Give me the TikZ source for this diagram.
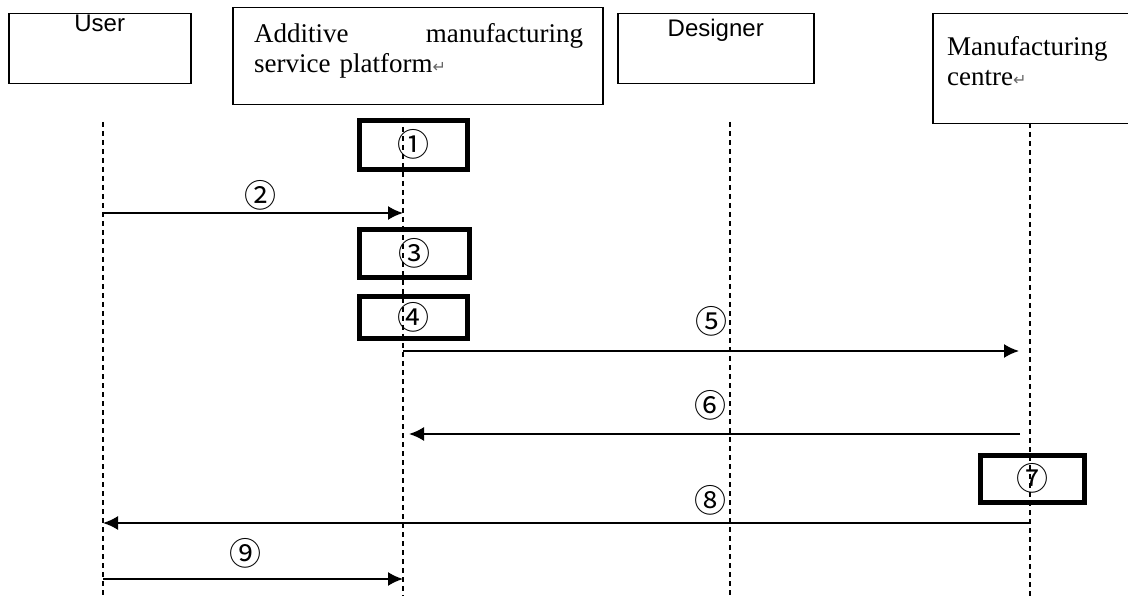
\documentclass[tikz,border=0pt]{standalone}
\usepackage{fontspec}
\usetikzlibrary{positioning, arrows.meta}
\newfontfamily\labelsans{Liberation Sans}
\newfontfamily\labelserif{Liberation Serif}
\newfontfamily\circnum{Noto Sans CJK SC}
\newfontfamily\retfont{DejaVu Sans}
\newcommand{\retmark}{{\retfont\fontsize{16}{16}\selectfont\textcolor{black!60}{↵}}}

\begin{document}
\begin{tikzpicture}[
    x=1pt, y=-1pt,
    >={Latex[length=15pt, width=14pt]},
    % Styles for the participants, their lifelines and the messages
    actor/.style={rectangle, draw=black, line width=1.5pt, anchor=north west, inner sep=0pt},
    activity/.style={rectangle, draw=black, line width=5pt, inner sep=0pt, font=\circnum\fontsize{32}{32}\selectfont},
    lifeline/.style={draw=black, line width=1.6pt, dash pattern=on 5pt off 4pt},
    msg/.style={->, line width=1.8pt, draw=black},
    num/.style={inner sep=0pt, font=\circnum\fontsize{32}{32}\selectfont},
    sanstext/.style={inner sep=0pt, font=\labelsans\fontsize{24}{28}\selectfont},
    seriftext/.style={inner sep=0pt, align=left, font=\labelserif\fontsize{27}{30}\selectfont}
]
  \useasboundingbox (0,0) rectangle (1128,596);

  % --- PARTICIPANTS ---
  \node[actor, minimum width=182pt, minimum height=70pt] (user) at (8,13) {};
  \node[actor, minimum width=370pt, minimum height=97pt] (platform) at (232,7) {};
  \node[actor, minimum width=196pt, minimum height=70pt] (designer) at (617,13) {};
  \node[actor, minimum width=200pt, minimum height=110pt] (centre) at (932,13) {};

  \node[sanstext, below=2pt of user.north] (usertxt) {User};
  \node[sanstext, below=6pt of designer.north] (designertxt) {Designer};
  \node[seriftext, text width=329pt, below right=16.5pt and 22pt of platform.north west] (platformtxt)
    {Additive\hfill manufacturing\\service platform\retmark};
  \node[seriftext, below right=23.5pt and 15pt of centre.north west] (centretxt)
    {Manufacturing\\centre\retmark};

  % --- LIFELINES ---
  \coordinate (user-top) at (103,122);
  \coordinate (user-end) at (103,596);
  \coordinate (platform-top) at (403,118);
  \coordinate (platform-end) at (403,596);
  \coordinate (designer-top) at (730,122);
  \coordinate (designer-end) at (730,596);
  \coordinate (centre-top) at (1030,123);
  \coordinate (centre-end) at (1030,596);

  \draw[lifeline] (user-top) -- (user-end);
  \draw[lifeline] (platform-top) -- (platform-end);
  \draw[lifeline] (designer-top) -- (designer-end);
  \draw[lifeline] (centre-top) -- (centre-end);

  % --- ACTIVATIONS ---
  \node[activity, minimum width=108pt, minimum height=49pt] (act1) at (413.5,145) {\raisebox{5pt}{①}};
  \node[activity, minimum width=110pt, minimum height=48pt] (act3) at (414.5,253.5) {\raisebox{3.5pt}{③}};
  \node[activity, minimum width=108pt, minimum height=42pt] (act4) at (413.5,317.5) {\raisebox{2.5pt}{④}};
  \node[activity, minimum width=104pt, minimum height=47pt] (act7) at (1032.5,479) {\raisebox{5pt}{⑦}};

  % --- MESSAGES ---
  \coordinate (m2a) at (103,213);
  \coordinate (m2b) at (403,213);
  \coordinate (m5a) at (403,351);
  \coordinate (m5b) at (1019,351);
  \coordinate (m6a) at (1020,434);
  \coordinate (m6b) at (409,434);
  \coordinate (m8a) at (1030,523);
  \coordinate (m8b) at (103,523);
  \coordinate (m9a) at (103,579);
  \coordinate (m9b) at (403,579);

  \draw[msg] (m2a) -- (m2b);
  \draw[msg] (m5a) -- (m5b);
  \draw[msg] (m6a) -- (m6b);
  \draw[msg] (m8a) -- (m8b);
  \draw[msg] (m9a) -- (m9b);

  \node[num] (num2) at (260,195) {②};
  \node[num] (num5) at (711,321) {⑤};
  \node[num] (num6) at (710,405) {⑥};
  \node[num] (num8) at (710,500) {⑧};
  \node[num] (num9) at (245,553) {⑨};

\end{tikzpicture}
\end{document}
